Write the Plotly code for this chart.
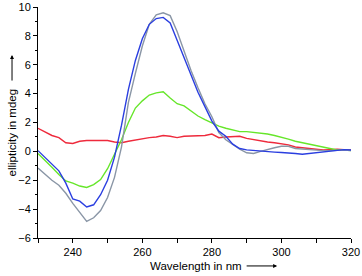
import plotly.graph_objects as go

wavelength = list(range(230, 321, 2))

gray = [-1.15, -1.6, -2.0, -2.35, -2.9, -3.6, -4.2, -4.85, -4.6, -4.1, -3.2, -1.8, 0.3, 3.4, 5.4, 7.3,
        8.8, 9.45, 9.6, 9.4, 8.3, 6.9, 5.6, 4.4, 3.3, 2.4, 1.3, 0.8, 0.45, 0.15, -0.1, -0.15, 0.0,
        0.15, 0.25, 0.35, 0.35, 0.2, 0.15, 0.1, 0.07, 0.05, 0.05, 0.1, 0.1, 0.05]
blue = [0.05, -0.4, -0.9, -1.35, -2.2, -3.3, -3.45, -3.85, -3.7, -3.0, -2.0, -0.4, 1.8, 4.3, 6.3, 7.8,
        8.8, 9.2, 9.28, 8.9, 7.7, 6.5, 5.2, 4.1, 3.1, 2.1, 1.4, 1.05, 0.5, 0.2, 0.1, 0.05, 0.0,
        -0.02, -0.05, -0.08, -0.1, -0.15, -0.2, -0.15, -0.05, 0.0, 0.05, 0.1, 0.12, 0.1]
green = [-0.15, -0.6, -1.1, -1.6, -2.05, -2.2, -2.4, -2.5, -2.3, -1.95, -1.2, -0.2, 0.8, 2.0, 3.0, 3.5,
         3.9, 4.05, 4.13, 3.7, 3.3, 3.15, 2.8, 2.45, 2.2, 1.95, 1.75, 1.6, 1.48, 1.37, 1.37, 1.33,
         1.25, 1.2, 1.1, 1.0, 0.85, 0.7, 0.6, 0.5, 0.35, 0.25, 0.15, 0.1, 0.1, 0.05]
red = [1.6, 1.35, 1.1, 0.95, 0.6, 0.55, 0.7, 0.75, 0.75, 0.8, 0.75, 0.65, 0.6, 0.7, 0.8, 0.9,
       0.95, 1.0, 1.1, 1.05, 0.95, 1.05, 1.05, 1.1, 1.1, 1.2, 0.95, 1.0, 1.05, 1.05, 0.9, 0.8,
       0.75, 0.65, 0.6, 0.55, 0.45, 0.3, 0.25, 0.15, 0.1, 0.1, 0.12, 0.15, 0.12, 0.1]

x_title = "Wavelength in nm"
y_title = "ellipticity in mdeg"

series = [
    ("red", red, "#ee2a3c"),
    ("green", green, "#66e62a"),
    ("gray", gray, "#8a96a6"),
    ("blue", blue, "#2a3ee0"),
]

fig = go.Figure()
for name, ys, col in series:
    fig.add_trace(go.Scatter(x=wavelength, y=ys, mode="lines", name=name,
                             line=dict(color=col, width=1.4), showlegend=False))

font = dict(family="Liberation Sans, Arial, sans-serif", size=11, color="black")
tfont = dict(family="Liberation Sans, Arial, sans-serif", size=11.5, color="black")
fig.update_layout(
    width=362, height=276,
    margin=dict(l=38, r=11, t=7, b=38),
    paper_bgcolor="white", plot_bgcolor="white",
    font=font,
    xaxis=dict(range=[230, 320], dtick=20, tick0=240, showgrid=False, zeroline=False,
               showline=True, linecolor="black", linewidth=1, ticks="outside", ticklen=4,
               tickcolor="black", automargin=False,
               minor=dict(dtick=10, tick0=230, ticks="outside", ticklen=4, tickcolor="black", showgrid=False)),
    yaxis=dict(range=[-6, 10], dtick=2, showgrid=False, zeroline=False,
               showline=True, linecolor="black", linewidth=1, ticks="outside", ticklen=4,
               tickcolor="black", automargin=False,
               minor=dict(dtick=1, ticks="outside", ticklen=2, tickcolor="black", showgrid=False)),
    annotations=[
        dict(text=x_title, xref="paper", yref="paper", x=0.351, y=-0.121,
             xanchor="left", yanchor="middle", showarrow=False, font=tfont),
        dict(text="", xref="paper", yref="paper", x=0.764, y=-0.121,
             ax=-32, ay=0, showarrow=True, arrowhead=2, arrowsize=0.8, arrowwidth=1,
             arrowcolor="black"),
        dict(text=y_title, xref="paper", yref="paper", x=-0.083, y=0.457,
             xanchor="center", yanchor="middle", textangle=-90, showarrow=False, font=tfont),
        dict(text="", xref="paper", yref="paper", x=-0.083, y=0.792,
             ax=0, ay=27, showarrow=True, arrowhead=2, arrowsize=0.8, arrowwidth=1,
             arrowcolor="black"),
    ],
)

fig.write_html("out.html", config={"displayModeBar": False},
               post_script="document.body.style.margin='0';document.body.style.padding='0';")
